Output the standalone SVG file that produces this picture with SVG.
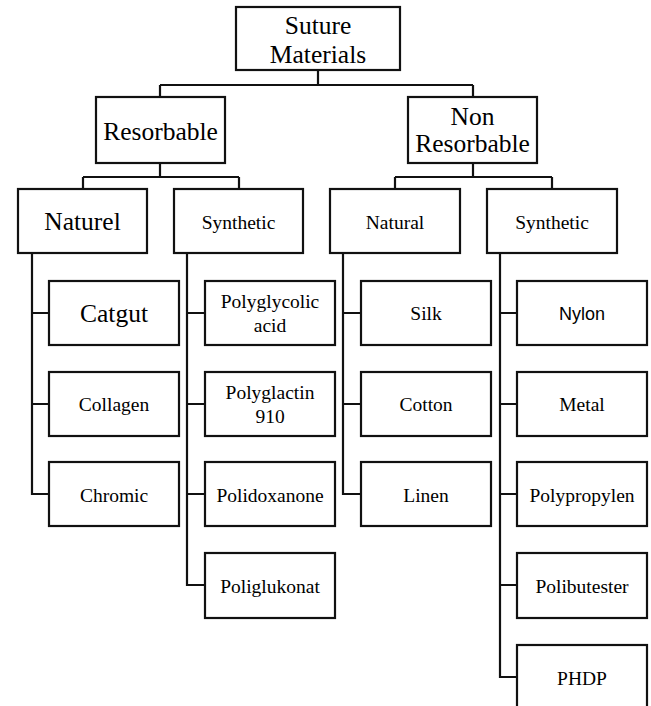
<svg xmlns="http://www.w3.org/2000/svg" width="651" height="706" viewBox="0 0 651 706">
<style>
.box{fill:#fff;stroke:#111;stroke-width:2.2}
.c{fill:none;stroke:#111;stroke-width:2.2}
text{font-family:"Liberation Serif","Times New Roman",serif;fill:#000;text-anchor:middle}
.b{font-size:25.5px}
.s{font-size:19.5px}
text.sans{font-family:"Liberation Sans",Arial,sans-serif;font-size:18px}
</style>
<rect width="651" height="706" fill="#fff"/>
<g id="connectors">
<path class="c" d="M318 70V85M160 85H473M160 85V97M473 85V97"/>
<path class="c" d="M160 163V177M83 177H239M83 177V189M239 177V189"/>
<path class="c" d="M473 163V177M395 177H552M395 177V189M552 177V189"/>
<path class="c" d="M32 253V494H49M32 313H49M32 404H49"/>
<path class="c" d="M187 253V585H205M187 313H205M187 404H205M187 494H205"/>
<path class="c" d="M343 253V494H361M343 313H361M343 404H361"/>
<path class="c" d="M500 253V677H517M500 313H517M500 404H517M500 494H517M500 585H517"/>
</g>
<g id="suture"><rect class="box" x="236" y="7" width="164" height="63"/><text class="b" x="318" y="34">Suture</text><text class="b" x="318" y="63">Materials</text></g>
<g id="resorbable"><rect class="box" x="96" y="97" width="129" height="66"/><text class="b" x="160.5" y="140">Resorbable</text></g>
<g id="nonresorbable"><rect class="box" x="408" y="97" width="129" height="66"/><text class="b" x="472.5" y="125">Non</text><text class="b" x="472.5" y="152">Resorbable</text></g>
<g id="naturel"><rect class="box" x="18" y="189" width="129" height="64"/><text class="b" x="82.5" y="230">Naturel</text></g>
<g id="synthetic1"><rect class="box" x="174" y="189" width="129" height="64"/><text class="s" x="238.5" y="229">Synthetic</text></g>
<g id="natural"><rect class="box" x="330" y="189" width="130" height="64"/><text class="s" x="395" y="229">Natural</text></g>
<g id="synthetic2"><rect class="box" x="487" y="189" width="130" height="64"/><text class="s" x="552" y="229">Synthetic</text></g>
<g id="catgut"><rect class="box" x="49" y="281" width="130" height="64"/><text class="b" x="114" y="322">Catgut</text></g>
<g id="collagen"><rect class="box" x="49" y="372" width="130" height="64"/><text class="s" x="114" y="411">Collagen</text></g>
<g id="chromic"><rect class="box" x="49" y="462" width="130" height="64"/><text class="s" x="114" y="502">Chromic</text></g>
<g id="polyglycolic"><rect class="box" x="205" y="281" width="130" height="64"/><text class="s" x="270" y="308">Polyglycolic</text><text class="s" x="270" y="332">acid</text></g>
<g id="polyglactin"><rect class="box" x="205" y="372" width="130" height="64"/><text class="s" x="270" y="399">Polyglactin</text><text class="s" x="270" y="423">910</text></g>
<g id="polidoxanone"><rect class="box" x="205" y="462" width="130" height="64"/><text class="s" x="270" y="502">Polidoxanone</text></g>
<g id="poliglukonat"><rect class="box" x="205" y="553" width="130" height="65"/><text class="s" x="270" y="593">Poliglukonat</text></g>
<g id="silk"><rect class="box" x="361" y="281" width="130" height="64"/><text class="s" x="426" y="320">Silk</text></g>
<g id="cotton"><rect class="box" x="361" y="372" width="130" height="64"/><text class="s" x="426" y="411">Cotton</text></g>
<g id="linen"><rect class="box" x="361" y="462" width="130" height="64"/><text class="s" x="426" y="502">Linen</text></g>
<g id="nylon"><rect class="box" x="517" y="281" width="130" height="64"/><text class="sans" x="582" y="320">Nylon</text></g>
<g id="metal"><rect class="box" x="517" y="372" width="130" height="64"/><text class="s" x="582" y="411">Metal</text></g>
<g id="polypropylen"><rect class="box" x="517" y="462" width="130" height="64"/><text class="s" x="582" y="502">Polypropylen</text></g>
<g id="polibutester"><rect class="box" x="517" y="553" width="130" height="65"/><text class="s" x="582" y="593">Polibutester</text></g>
<g id="phdp"><rect class="box" x="517" y="645" width="130" height="70"/><text class="s" x="582" y="685">PHDP</text></g>
</svg>
